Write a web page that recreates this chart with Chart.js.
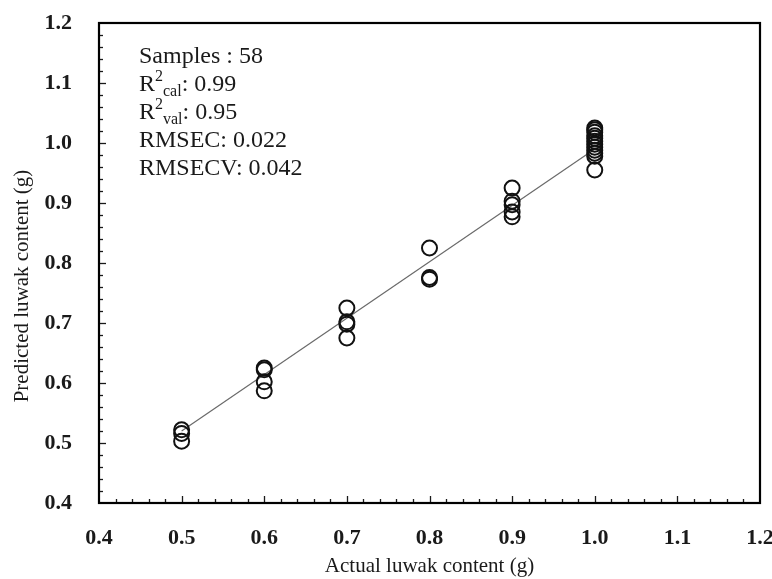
<!DOCTYPE html>
<html>
<head>
<meta charset="utf-8">
<script src="https://cdn.jsdelivr.net/npm/chart.js@4.4.1/dist/chart.umd.min.js"></script>
<style>
  html, body { margin: 0; padding: 0; background: #fff; }
  #wrap { width: 772px; height: 579px; position: relative; }
</style>
</head>
<body>
<div id="wrap"><canvas id="c" width="772" height="579"></canvas></div>
<script>
// ---- data ----
const actual = [
  0.5, 0.5, 0.5,
  0.6, 0.6, 0.6, 0.6,
  0.7, 0.7, 0.7, 0.7,
  0.8, 0.8, 0.8,
  0.9, 0.9, 0.9, 0.9, 0.9,
  1.0, 1.0, 1.0, 1.0, 1.0, 1.0, 1.0, 1.0, 1.0, 1.0, 1.0, 1.0
];
const predicted = [
  0.522, 0.516, 0.503,
  0.625, 0.622, 0.602, 0.587,
  0.725, 0.702, 0.698, 0.675,
  0.825, 0.776, 0.773,
  0.925, 0.903, 0.897, 0.885, 0.877,
  1.025, 1.022, 1.018, 1.012, 1.008, 1.003, 0.998, 0.993, 0.988, 0.983, 0.978, 0.955
];
const fitX = [0.5, 1.0];
const fitY = [0.52, 0.99];
const axisMin = 0.4;
const axisMax = 1.2;
const xTitle = 'Actual luwak content (g)';
const yTitle = 'Predicted luwak content (g)';
const statsLines = [
  [{t: 'Samples : 58'}],
  [{t: 'R'}, {t: '2', sup: true}, {t: 'cal', sub: true}, {t: ': 0.99'}],
  [{t: 'R'}, {t: '2', sup: true}, {t: 'val', sub: true}, {t: ': 0.95'}],
  [{t: 'RMSEC: 0.022'}],
  [{t: 'RMSECV: 0.042'}]
];

const SERIF = '"Liberation Serif", "Times New Roman", "DejaVu Serif", serif';
const INK = '#1a1a1a';

const scatterData = actual.map((x, i) => ({x: x, y: predicted[i]}));
const lineData = fitX.map((x, i) => ({x: x, y: fitY[i]}));

const frameTicks = {
  id: 'frameTicks',
  afterDraw(chart) {
    const ctx = chart.ctx;
    const a = chart.chartArea;
    const xs = chart.scales.x, ys = chart.scales.y;
    ctx.save();
    ctx.strokeStyle = INK;
    ctx.lineWidth = 1.3;
    const n = Math.round((axisMax - axisMin) / 0.02);
    for (let i = 1; i < n; i++) {
      const v = axisMin + i * 0.02;
      const len = (i % 5 === 0) ? 7 : 4;
      const px = Math.round(xs.getPixelForValue(v)) + 0.5;
      ctx.beginPath();
      ctx.moveTo(px, a.bottom);
      ctx.lineTo(px, a.bottom - len);
      ctx.stroke();
      const py = Math.round(ys.getPixelForValue(v)) + 0.5;
      ctx.beginPath();
      ctx.moveTo(a.left, py);
      ctx.lineTo(a.left + len, py);
      ctx.stroke();
    }
    ctx.lineWidth = 2.2;
    ctx.strokeStyle = '#000';
    ctx.strokeRect(a.left, a.top, a.right - a.left, a.bottom - a.top);

    // stats text
    ctx.fillStyle = INK;
    ctx.textBaseline = 'alphabetic';
    const x0 = a.left + 40;
    let base = a.top + 40;
    statsLines.forEach(parts => {
      let x = x0;
      parts.forEach(p => {
        let size = 24, dy = 0;
        if (p.sup) { size = 16; dy = -10; }
        if (p.sub) { size = 16; dy = 5; }
        ctx.font = size + 'px ' + SERIF;
        ctx.fillText(p.t, x, base + dy);
        x += ctx.measureText(p.t).width;
      });
      base += 28;
    });

    // y-axis title (centred a little below the plot centre, as in the reference)
    ctx.save();
    ctx.translate(22, (a.top + a.bottom) / 2 + 23);
    ctx.rotate(-Math.PI / 2);
    ctx.font = '21px ' + SERIF;
    ctx.textAlign = 'center';
    ctx.textBaseline = 'middle';
    ctx.fillText(yTitle, 0, 0);
    ctx.restore();

    ctx.restore();
  }
};

new Chart(document.getElementById('c'), {
  type: 'scatter',
  data: {
    datasets: [
      {
        type: 'line',
        data: lineData,
        borderColor: '#6a6a6a',
        borderWidth: 1.2,
        pointRadius: 0,
        fill: false,
        order: 2
      },
      {
        data: scatterData,
        pointRadius: 7.5,
        pointBorderWidth: 2,
        pointBorderColor: '#111',
        pointBackgroundColor: 'rgba(255,255,255,0)',
        order: 1
      }
    ]
  },
  options: {
    responsive: false,
    animation: false,
    devicePixelRatio: 1,
    layout: { padding: { top: 23, right: 12, left: 0, bottom: 0 } },
    plugins: { legend: { display: false }, tooltip: { enabled: false } },
    scales: {
      x: {
        type: 'linear',
        min: axisMin, max: axisMax,
        afterFit(s) { s.height = 76; s.paddingLeft = 0; s.paddingRight = 0; },
        grid: { display: false, drawTicks: false },
        border: { display: false },
        ticks: {
          stepSize: 0.1,
          padding: 22,
          color: INK,
          font: { family: SERIF, size: 22, weight: 'bold' },
          callback: v => Number(v).toFixed(1)
        },
        title: {
          display: true,
          text: xTitle,
          color: INK,
          font: { family: SERIF, size: 21 },
          padding: { top: 0, bottom: 0 }
        }
      },
      y: {
        type: 'linear',
        min: axisMin, max: axisMax,
        afterFit(s) { s.width = 99; s.paddingTop = 0; s.paddingBottom = 0; },
        grid: { display: false, drawTicks: false },
        border: { display: false },
        ticks: {
          stepSize: 0.1,
          padding: 27,
          color: INK,
          font: { family: SERIF, size: 22, weight: 'bold' },
          callback: v => Number(v).toFixed(1)
        },
        title: { display: false }
      }
    }
  },
  plugins: [frameTicks]
});
</script>
</body>
</html>
